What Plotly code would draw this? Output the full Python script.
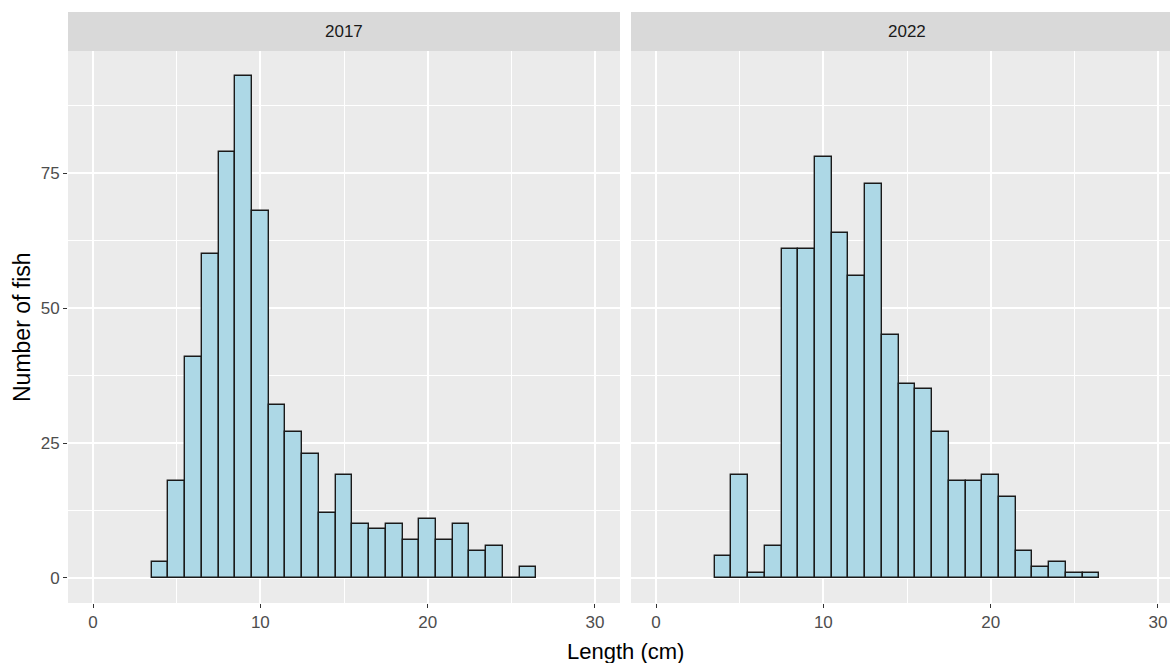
import plotly.graph_objects as go

# ---- data ----
lengths = list(range(4, 27))  # bin centres (cm), bin width 1
counts_2017 = [3, 18, 41, 60, 79, 93, 68, 32, 27, 23, 12, 19, 10, 9, 10, 7, 11, 7, 10, 5, 6, 0, 2]
counts_2022 = [4, 19, 1, 6, 61, 61, 78, 64, 56, 73, 45, 36, 35, 27, 18, 18, 19, 15, 5, 2, 3, 1, 1]
panel_labels = ["2017", "2022"]
x_ticks = [0, 10, 20, 30]
y_ticks = [0, 25, 50, 75]

W, H = 1170, 663
ML, MR, MT, MB = 68, 0, 12, 60
plot_w = W - ML - MR
plot_h = H - MT - MB

# panel geometry (pixels)
p1_left, p1_right = 68, 620
p2_left = 631
px_per_cm = (p1_right - p1_left) / 33.0
x_lo = -1.5
x_hi2 = x_lo + (W - p2_left) / px_per_cm

dom1 = [(p1_left - ML) / plot_w, (p1_right - ML) / plot_w]
dom2 = [(p2_left - ML) / plot_w, 1.0]
panel_h = 603 - 51
ydom_top = panel_h / plot_h

FONT = "Liberation Sans, Arial, sans-serif"
fill = "#ADD8E6"
edge = "#1a1a1a"

fig = go.Figure()
fig.add_trace(go.Bar(x=lengths, y=counts_2017, width=1, xaxis="x", yaxis="y",
                     marker=dict(color=fill, line=dict(color=edge, width=1.4)),
                     showlegend=False))
fig.add_trace(go.Bar(x=lengths, y=counts_2022, width=1, xaxis="x2", yaxis="y2",
                     marker=dict(color=fill, line=dict(color=edge, width=1.4)),
                     showlegend=False))

axis_common = dict(
    showgrid=True, gridcolor="white", gridwidth=1.6,
    zeroline=False, showline=False,
    ticklen=4, tickwidth=1, tickcolor="#333333",
    tickfont=dict(family=FONT, size=17, color="#4D4D4D"),
)
minor_x = dict(showgrid=True, gridcolor="white", gridwidth=0.8, tickvals=[5, 15, 25])
minor_y = dict(showgrid=True, gridcolor="white", gridwidth=0.8, tickvals=[12.5, 37.5, 62.5, 87.5])

fig.update_layout(
    width=W, height=H,
    margin=dict(l=ML, r=MR, t=MT, b=MB, pad=0),
    paper_bgcolor="white", plot_bgcolor="#EBEBEB",
    bargap=0,
    xaxis=dict(domain=dom1, range=[x_lo, 31.5], tickvals=x_ticks, anchor="y",
               ticks="outside", minor=minor_x, **axis_common),
    xaxis2=dict(domain=dom2, range=[x_lo, x_hi2], tickvals=x_ticks, anchor="y2",
                ticks="outside", minor=minor_x, **axis_common),
    yaxis=dict(domain=[0, ydom_top], range=[-4.65, 97.65], tickvals=y_ticks, anchor="x",
               ticks="outside", minor=minor_y, **axis_common),
    yaxis2=dict(domain=[0, ydom_top], range=[-4.65, 97.65], tickvals=y_ticks, anchor="x2",
                ticks="", showticklabels=False, matches="y", minor=minor_y, **axis_common),
)

# strips
shapes = []
annotations = []
p2_full_right = p2_left + 552
for dom, lab in zip([dom1, dom2], panel_labels):
    shapes.append(dict(type="rect", xref="paper", yref="paper",
                       x0=dom[0], x1=dom[1], y0=ydom_top, y1=1.0,
                       fillcolor="#D9D9D9", line=dict(width=0), layer="below"))
    xc = (dom[0] + dom[1]) / 2 if lab == "2017" else (dom[0] + (p2_full_right - ML) / plot_w) / 2
    annotations.append(dict(text=lab, xref="paper", yref="paper", x=xc, y=(ydom_top + 1) / 2,
                            xanchor="center", yanchor="middle", showarrow=False,
                            font=dict(family=FONT, size=17, color="#1A1A1A")))

annotations.append(dict(text="Length (cm)", xref="paper", yref="paper",
                        x=((p1_left + p2_full_right) / 2 - ML) / plot_w, y=-(651 - 603) / plot_h,
                        xanchor="center", yanchor="middle", showarrow=False,
                        font=dict(family=FONT, size=22, color="black")))
annotations.append(dict(text="Number of fish", xref="paper", yref="paper",
                        x=(22 - ML) / plot_w, y=(603 - 327) / plot_h,
                        xanchor="center", yanchor="middle", showarrow=False, textangle=-90,
                        font=dict(family=FONT, size=23, color="black")))

fig.update_layout(shapes=shapes, annotations=annotations)
fig.write_html("out.html")
